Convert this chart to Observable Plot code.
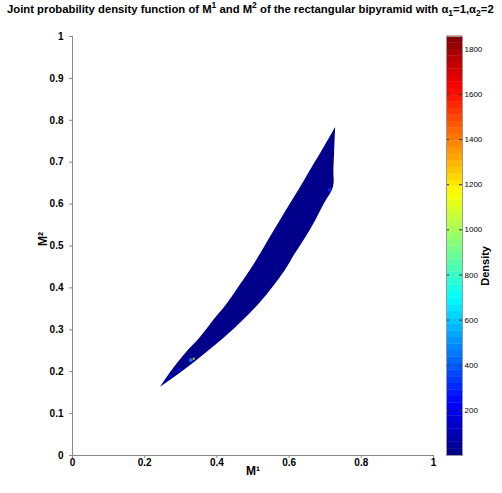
<!DOCTYPE html>
<html><head><meta charset="utf-8">
<script src="https://cdn.jsdelivr.net/npm/d3@7"></script>
<script src="https://cdn.jsdelivr.net/npm/@observablehq/plot@0.6"></script>
<style>
html,body{margin:0;padding:0;background:#fff;}
#wrap{position:relative;width:502px;height:493px;overflow:hidden;font-family:"Liberation Sans",Arial,sans-serif;}
#title{position:absolute;left:7px;top:1px;font-family:"Liberation Sans Narrow","Liberation Sans",sans-serif;font-weight:bold;font-size:11.3px;white-space:nowrap;line-height:16px;color:#000;}
#title sup,#title sub{font-size:8.5px;line-height:0;}
#main{position:absolute;left:0;top:0;}
#cbar{position:absolute;left:440px;top:0;}
</style></head><body>
<div id="wrap"><div id="main"></div><div id="cbar"></div>
<div id="title">Joint probability density function of M<sup>1</sup> and M<sup>2</sup> of the rectangular bipyramid with α<sub>1</sub>=1,α<sub>2</sub>=2</div></div>
<script>
// support region of the density, sampled by M2 level
const m2Levels    = [0.163, 0.203, 0.243, 0.282, 0.322, 0.362, 0.402, 0.442, 0.481, 0.521, 0.561, 0.601, 0.640, 0.680, 0.720, 0.783];
const upperEdgeM1 = [0.244, 0.276, 0.313, 0.355, 0.391, 0.429, 0.461, 0.493, 0.521, 0.548, 0.576, 0.604, 0.632, 0.659, 0.687, 0.729];
const lowerEdgeM1 = [0.244, 0.309, 0.368, 0.423, 0.473, 0.518, 0.556, 0.590, 0.617, 0.647, 0.674, 0.698, 0.723, 0.724, 0.726, 0.729];
const bandDensity = 20;
// local higher-density spots
const spotM1      = [0.272, 0.295, 0.328, 0.712, 0.336];
const spotM2      = [0.190, 0.205, 0.228, 0.634, 0.231];
const spotDensity = [230, 280, 480, 330, 1300];
const spotRadius  = [1.6, 1.7, 2, 1.8, 1.2];
// axes
const xTicks = [0, 0.2, 0.4, 0.6, 0.8, 1];
const yTicks = [0, 0.1, 0.2, 0.3, 0.4, 0.5, 0.6, 0.7, 0.8, 0.9, 1];
const cbTicks = [200, 400, 600, 800, 1000, 1200, 1400, 1600, 1800];
const densityMax = 1857;
// jet colormap
const jetStops  = [0, 1/8, 3/8, 5/8, 7/8, 1];
const jetColors = ["#000080", "#0000ff", "#00ffff", "#ffff00", "#ff0000", "#800000"];

const colorOpts = {type: "linear", domain: jetStops.map(t => t * densityMax), range: jetColors, interpolate: "rgb", clamp: true};
const band = m2Levels.map((m2, i) => ({m2, left: upperEdgeM1[i], right: lowerEdgeM1[i], density: bandDensity}));
const spots = spotM1.map((m1, i) => ({m1, m2: spotM2[i], density: spotDensity[i], r: spotRadius[i]}));
const font = "'Liberation Sans', Arial, sans-serif";

const main = Plot.plot({
  width: 440, height: 493,
  marginLeft: 72, marginRight: 7, marginTop: 36, marginBottom: 38,
  x: {domain: [0, 1]}, y: {domain: [0, 1]},
  r: {type: "identity"},
  color: colorOpts,
  style: {fontFamily: font, background: "white"},
  marks: [
    Plot.areaX(band, {y: "m2", x1: "left", x2: "right", fill: "density", curve: "catmull-rom"}),
    Plot.dot(spots, {x: "m1", y: "m2", fill: "density", r: "r", stroke: null, fillOpacity: 0.85}),
    Plot.ruleX([0], {stroke: "#888"}),
    Plot.ruleY([0], {stroke: "#888"}),
    Plot.axisX({ticks: xTicks, tickSize: 3, tickPadding: 0, stroke: "#888", fill: "black", fontWeight: "bold", fontSize: 10, label: null, tickFormat: d => String(d)}),
    Plot.axisY({ticks: yTicks, tickSize: 3, tickPadding: 6, stroke: "#888", fill: "black", fontWeight: "bold", fontSize: 10, label: null, tickFormat: d => String(d)}),
    Plot.text(["M¹"], {frameAnchor: "bottom", dy: 19, fontWeight: "bold", fontSize: 12, fill: "black"}),
    Plot.text(["M²"], {frameAnchor: "left", dx: -29, rotate: -90, fontWeight: "bold", fontSize: 12, fill: "black"})
  ]
});
document.getElementById("main").append(main);

const nBands = 64;
const step = densityMax / nBands;
const bands = d3.range(nBands).map(i => ({y1: i * step, y2: (i + 1.05) * step, mid: (i + 0.5) * step}));
const cb = Plot.plot({
  width: 62, height: 493,
  marginLeft: 6, marginRight: 40, marginTop: 36, marginBottom: 38,
  x: {domain: [0, 1], axis: null},
  y: {domain: [0, densityMax], axis: null},
  color: colorOpts,
  style: {fontFamily: font, background: "white"},
  marks: [
    Plot.rect(bands, {x1: 0, x2: 1, y1: "y1", y2: "y2", fill: "mid"}),
    Plot.tickY(cbTicks, {y: d => d, insetRight: 13, stroke: "#333"}),
    Plot.tickY(cbTicks, {y: d => d, insetLeft: 13, stroke: "#333"}),
    Plot.axisY({anchor: "right", ticks: cbTicks, tickSize: 0, tickPadding: 2, fontSize: 8, fill: "black", label: null, tickFormat: d => String(d)}),
    Plot.frame({stroke: "#999"}),
    Plot.text(["Density"], {frameAnchor: "right", dx: 23, rotate: -90, fontWeight: "bold", fontSize: 11, fill: "black"})
  ]
});
document.getElementById("cbar").append(cb);
</script>
</body></html>
